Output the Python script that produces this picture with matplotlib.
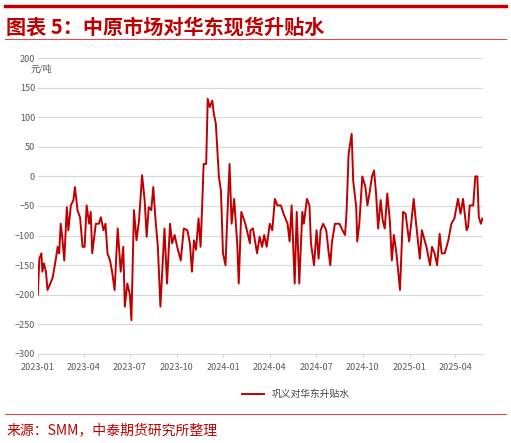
import matplotlib.pyplot as plt
import matplotlib.dates as mdates
import pandas as pd

plt.rcParams['font.family'] = ['Noto Sans CJK SC', 'DejaVu Sans']

# days since 2023-01-01
day_offset = [0, 3, 7, 9, 12, 16, 19, 29, 35, 39, 42, 45, 48, 52, 57, 60, 65, 70, 73, 78,
              83, 88, 92, 96, 101, 104, 107, 114, 120, 124, 129, 133, 137, 142, 146, 151,
              157, 163, 168, 171, 176, 181, 184, 189, 194, 199, 205, 210, 214, 218, 223,
              227, 231, 236, 241, 249, 254, 260, 264, 269, 274, 281, 287, 294, 299, 303,
              307, 311, 316, 320, 323, 326, 331, 334, 338, 343, 346, 350, 356, 360, 364,
              369, 372, 377, 381, 386, 392, 395, 400, 408, 417,
              418, 423, 431, 436, 441, 445, 450, 456, 461, 466, 471, 478, 483, 491, 495,
              499, 505, 509, 514, 520, 523, 529, 534, 537, 543, 548, 552, 556, 561, 567,
              572, 575, 578, 584, 593, 599, 604, 607, 611, 617, 620, 626, 628, 632, 638,
              644, 648, 652, 657, 661, 665, 669, 674, 678, 682, 687, 692, 696, 700, 705,
              712, 718, 723, 730, 734, 739, 743, 751, 755, 764, 771, 775, 780, 785, 790,
              794, 800, 807, 813, 819, 826, 831, 836, 843, 846, 849, 856, 860, 864, 867,
              871, 874]
spread = [-200, -139, -130, -161, -147, -161, -192, -172, -142, -119, -130, -80, -102, -142,
          -52, -91, -49, -40, -18, -57, -69, -119, -119, -49, -80, -60, -130, -80, -80, -69,
          -91, -80, -130, -142, -161, -192, -88, -161, -119, -220, -181, -200, -243, -57,
          -108, -74, 2, -40, -102, -52, -57, -18, -69, -119, -220, -88, -181, -80, -113,
          -99, -119, -142, -88, -91, -113, -161, -108, -124, -71, -119, -52, 21, 21, 131,
          117, 128, 106, 89, -1, -24, -130, -150, -80, 21, -80, -38, -113, -181, -60, -80,
          -113,
          -91, -88, -130, -102, -119, -99, -119, -80, -91, -38, -49, -49, -63, -80, -110,
          -49, -181, -60, -181, -60, -80, -38, -49, -113, -150, -91, -139, -91, -80, -91,
          -130, -150, -113, -80, -80, -91, -99, -60, 38, 72, -7, -52, -110, -80, 0, -18,
          -49, -29, 0, 10, -29, -88, -40, -74, -88, -29, -74, -142, -99, -130, -192, -60,
          -63, -110, -80, -38, -74, -139, -91, -119, -150, -119, -130, -150, -97, -130,
          -130, -108, -80, -71, -38, -63, -38, -91, -85, -49, -49, 0, 0, -69, -80, -71]
tick_labels = ['2023-01', '2023-04', '2023-07', '2023-10', '2024-01', '2024-04',
               '2024-07', '2024-10', '2025-01', '2025-04']

dates = pd.Timestamp('2023-01-01') + pd.to_timedelta(day_offset, unit='D')
red = '#C00000'
grey = '#595959'

fig = plt.figure(figsize=(5.11, 4.43), dpi=100)
ax = fig.add_axes([0.074, 0.201, 0.871, 0.668])
ax.plot(dates, spread, color=red, linewidth=1.4, label='巩义对华东升贴水')

ax.set_ylim(-300, 200)
ax.set_yticks(range(-300, 201, 50))
ax.set_xlim(pd.Timestamp('2023-01-01'), pd.Timestamp('2025-05-25'))
ax.set_xticks(pd.to_datetime(tick_labels))
ax.xaxis.set_major_formatter(mdates.DateFormatter('%Y-%m'))
ax.grid(axis='y', color='#D9D9D9', linewidth=0.8)
ax.set_axisbelow(True)
for s in ['top', 'right', 'left']:
    ax.spines[s].set_visible(False)
ax.spines['bottom'].set_color('#D9D9D9')
ax.tick_params(axis='y', length=0, labelsize=6.5, labelcolor=grey, pad=2)
ax.tick_params(axis='x', length=3, color='#D9D9D9', labelsize=6.5, labelcolor=grey)

fig.text(0.059, 0.838, '元/吨', fontsize=6.5, color=grey)
ax.legend(loc='upper center', bbox_to_anchor=(0.58, -0.09), frameon=False,
          fontsize=7, handlelength=2.2, labelcolor='#404040')

# title, source and red rules
fig.add_artist(plt.Line2D([0.01, 0.99], [0.987, 0.987], color=red, linewidth=2.5))
fig.text(0.012, 0.94, '图表 5：中原市场对华东现货升贴水', fontsize=14.5, color=red,
         fontweight='bold', style='italic', va='center')
fig.add_artist(plt.Line2D([0.01, 0.99], [0.912, 0.912], color='#D65050', linewidth=0.8))
fig.add_artist(plt.Line2D([0.01, 0.99], [0.066, 0.066], color='#D65050', linewidth=0.8))
fig.text(0.012, 0.028, '来源：SMM，中泰期货研究所整理', fontsize=10, color=red, va='center')

fig.savefig('out.png', dpi=100)
